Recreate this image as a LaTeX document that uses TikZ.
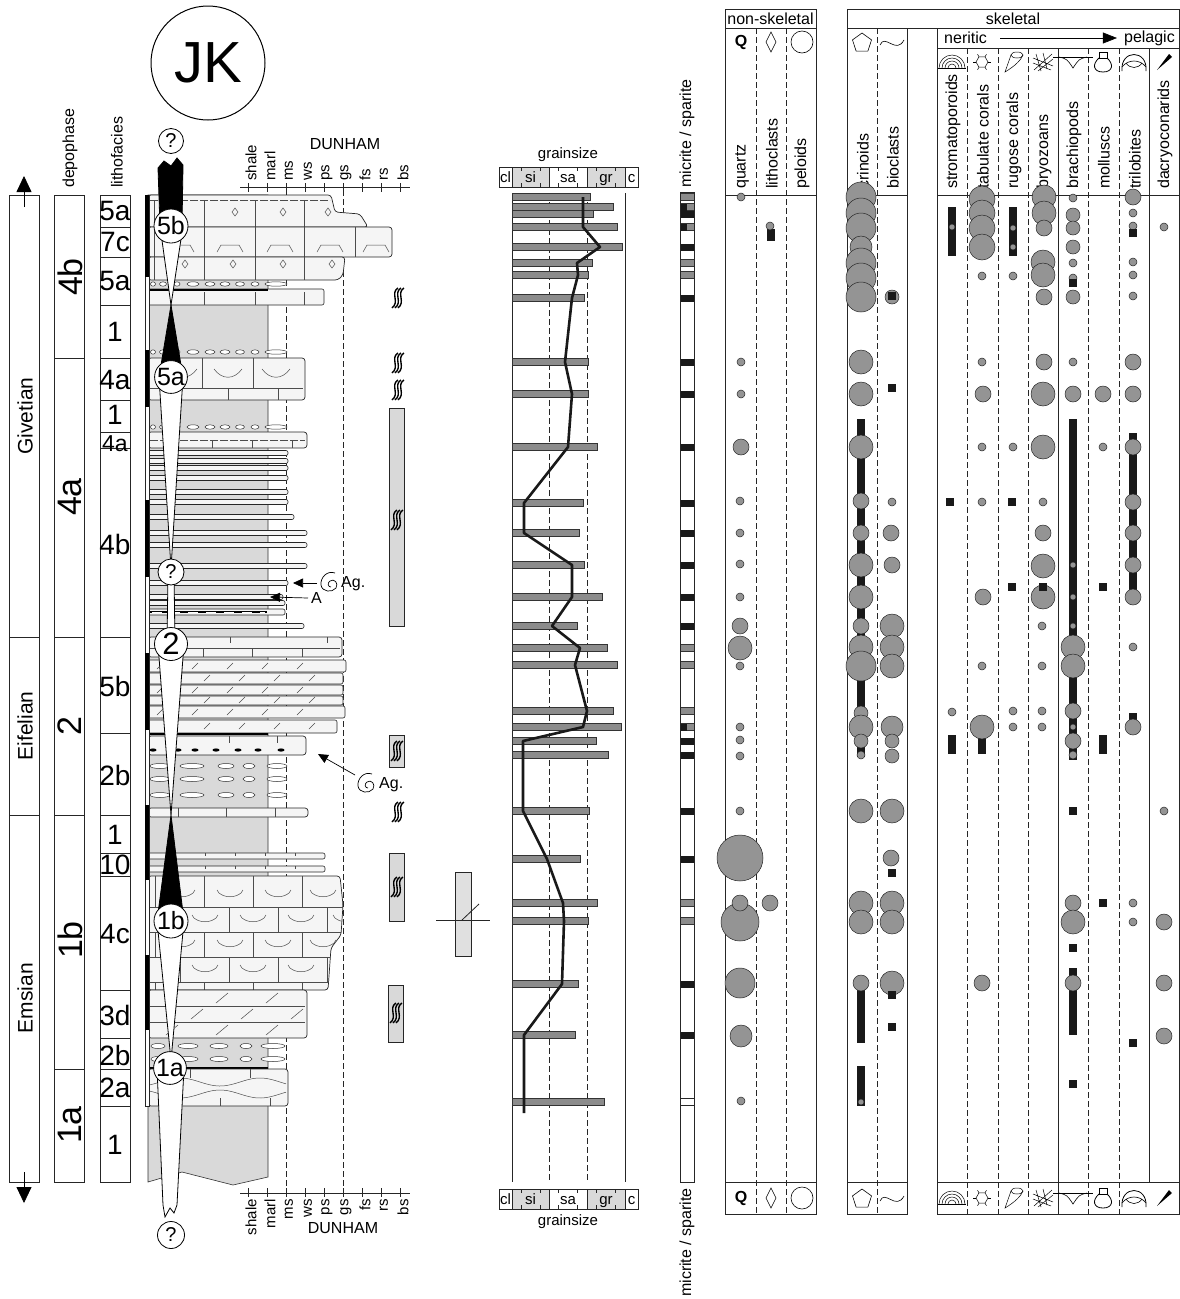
\documentclass[tikz,border=0pt]{standalone}
\usepackage{fontspec}
\setmainfont{Liberation Sans}
\usetikzlibrary{arrows.meta}

\newcommand{\fsz}[1]{\fontsize{#1}{#1}\selectfont}

\tikzset{
  frame/.style={draw=black!85, line width=0.8pt},
  guide/.style={draw=black!85, line width=0.6pt, dash pattern=on 6pt off 3pt},
  txt/.style={font=\fsz{16}},
  shale/.style={fill=black!15, draw=black!80, line width=0.6pt},
  lime/.style={fill=black!4, draw=black!85, line width=0.7pt, rounded corners=3pt},
  thinbed/.style={fill=black!4, draw=black!85, line width=0.6pt, rounded corners=2pt},
  brick/.style={draw=black!70, line width=0.5pt},
  nod/.style={fill=white, draw=black!80, line width=0.5pt},
  seqw/.style={fill=white, draw=black, line width=0.8pt},
  seqb/.style={fill=black, draw=black, line width=0.8pt},
  seqlab/.style={circle, draw=black, fill=white, line width=0.8pt, inner sep=0pt},
  gbar/.style={fill=black!45, draw=black!80, line width=0.5pt},
  grain/.style={fill=black!42, draw=black!85, line width=0.5pt},
  blk/.style={fill=black!90},
  tipline/.style={line width=0.7pt, -{Triangle[length=10pt, width=9pt]}},
  squig/.pic={
    \foreach \dd in {-3,0,3}
      \draw[line width=1.4pt] (\dd+3,-10) .. controls (\dd-5,-5) and (\dd+5,4) .. (\dd-3,10);
  },
  ammo/.pic={
    \draw[line width=0.7pt] (5,-9) .. controls (-3,-12) and (-10,-4) .. (-9,3)
      .. controls (-8,10) and (2,11) .. (6,6)
      .. controls (9,1) and (4,-4) .. (0,-1)
      .. controls (-3,1) and (-2,5) .. (1,5);
  },
  lozenge/.pic={\draw[line width=0.6pt] (0,-10) -- (5,0) -- (0,10) -- (-5,0) -- cycle;},
  pentag/.pic={\draw[line width=0.6pt] (-90:10) -- (-18:10) -- (54:10) -- (126:10) -- (198:10) -- cycle;},
  wavey/.pic={\draw[line width=0.6pt] (-12,3) .. controls (-7,-9) and (4,13) .. (12,-2);},
  strom/.pic={
    \begin{scope}
      \clip (-15,-10) rectangle (15,6);
      \foreach \q in {4,7,10,13} \draw[line width=0.5pt] (0,6) circle[radius=\q pt];
    \end{scope}
    \draw[line width=0.5pt] (-14,6) -- (14,6);
  },
  tabc/.pic={
    \draw[line width=0.5pt] (0:6) -- (60:6) -- (120:6) -- (180:6) -- (240:6) -- (300:6) -- cycle;
    \foreach \a in {0,60,...,300} \draw[line width=0.5pt] (\a:6) -- (\a:9);
  },
  rugc/.pic={
    \draw[line width=0.5pt] (-2,-7) -- (-8,10) .. controls (2,4) and (8,-2) .. (10,-7);
    \draw[line width=0.5pt] (4,-7) ellipse[x radius=6pt, y radius=3pt];
  },
  bryo/.pic={
    \draw[line width=0.5pt] (-9,8) -- (9,-8) (-5,9) -- (10,-3) (-10,-4) -- (10,4)
      (-10,1) -- (8,8) (-7,-8) -- (-2,9) (0,-9) -- (4,7);
  },
  brach/.pic={
    \draw[line width=0.6pt] (-20,-5) -- (20,-5);
    \draw[line width=0.6pt] (-14,-5) .. controls (-6,-3) .. (0,6) .. controls (6,-3) .. (14,-5);
  },
  moll/.pic={
    \draw[line width=0.8pt] (-4,-10) rectangle (4,-4);
    \draw[line width=0.8pt] (-4,-4) .. controls (-11,2) and (-10,10) .. (0,10)
      .. controls (10,10) and (11,2) .. (4,-4);
  },
  tril/.pic={
    \draw[line width=0.8pt] (-12,9) .. controls (-14,-13) and (14,-13) .. (12,9);
    \draw[line width=0.6pt] (-12,5) .. controls (-6,-3) and (6,-3) .. (12,5);
    \draw[line width=0.6pt] (-8,1) .. controls (-4,7) and (4,7) .. (8,1);
  },
  dacr/.pic={\fill (-7,8) -- (5,-8) -- (8,-5) -- cycle;},
}

\begin{document}
\begin{tikzpicture}[x=1pt, y=-1pt, every node/.style={inner sep=0pt}]
  \useasboundingbox (0,0) rectangle (1179,1299);
  \fill[white] (0,0) rectangle (1179,1299);

  % Time scale
  \draw[frame] (9,195) rectangle (39,1182);
  \draw[frame] (9,637) -- (39,637) (9,815) -- (39,815);
  \coordinate (upA) at (24,207);
  \coordinate (upB) at (24,176);
  \coordinate (dnA) at (24,1172);
  \coordinate (dnB) at (24,1203);
  \draw[line width=0.8pt, -{Triangle[length=16pt, width=15pt]}] (upA) -- (upB);
  \draw[line width=0.8pt, -{Triangle[length=16pt, width=15pt]}] (dnA) -- (dnB);
  \node[rotate=90, font=\fsz{21}] (giv) at (25,416) {Givetian};
  \node[rotate=90, font=\fsz{21}] (eif) at (25,726) {Eifelian};
  \node[rotate=90, font=\fsz{21}] (ems) at (25,998) {Emsian};

  % Depophases
  \draw[frame] (54,195) rectangle (84,1182);
  \foreach \yy in {358,637,815,1069} \draw[frame] (54,\yy) -- (84,\yy);
  \node[txt, rotate=90, anchor=west] (dephead) at (70,188) {depophase};
  \foreach \yy/\lab [count=\i] in {277/4b, 497/4a, 726/2, 940/1b, 1125/1a}
    \node[rotate=90, font=\fsz{34}] (dp\i) at (70,\yy) {\lab};

  % Lithofacies
  \draw[frame] (100,195) rectangle (130,1182);
  \foreach \yy in {227,257,305,358,400,432,448,637,733,815,853,876,990,1038,1069,1106}
    \draw[frame] (100,\yy) -- (130,\yy);
  \node[txt, rotate=90, anchor=west] (lfhead) at (117,188) {lithofacies};
  \foreach \yy/\lab [count=\i] in {211/5a, 242/7c, 281/5a, 332/1, 380/4a, 415/1, 544/4b,
      686/5b, 775/2b, 835/1, 865/10, 934/4c, 1015/3d, 1055/2b, 1088/2a, 1145/1}
    \node[font=\fsz{28}] (lf\i) at (115,\yy) {\lab};
  \node[font=\fsz{23}] (lfsmall) at (115,444) {4a};

  % Log: guides and shale
  \draw[guide] (286,190) -- (286,1190);
  \draw[guide] (343,190) -- (343,1190);
  \draw[shale] (148,195) -- (268,195) -- (268,1177) -- (233,1185) -- (182,1172) -- (148,1182) -- cycle;

  % Log: 5a, 7c, 5a
  \draw[lime] (148,195) -- (331,195) -- (335,212) -- (360,214) -- (368,227) -- (148,227) -- cycle;
  \draw[brick, dash pattern=on 8pt off 2pt] (150,200) -- (330,200);
  \foreach \xx in {154,204,255,304} \draw[brick] (\xx,200) -- (\xx,227);
  \foreach \xx in {235,283,328} \draw[brick] (\xx,208) -- (\xx+3,212) -- (\xx,216) -- (\xx-3,212) -- cycle;
  \draw[lime] (148,227) rectangle (392,257);
  \foreach \xx in {154,204,255,304,355} \draw[brick] (\xx,227) -- (\xx,257);
  \foreach \xx in {181,230,280,330,376} \draw[brick] (\xx-13,252) -- (\xx-9,245) -- (\xx+9,245) -- (\xx+13,252);
  \draw[lime] (148,257) -- (345,257) -- (343,275) -- (338,280) -- (148,280) -- cycle;
  \foreach \xx in {154,204,255,304} \draw[brick] (\xx,257) -- (\xx,280);
  \foreach \xx in {185,233,283,332} \draw[brick] (\xx,260) -- (\xx+3,264) -- (\xx,268) -- (\xx-3,264) -- cycle;
  \foreach \yy in {284,352,427}
    \foreach \xx/\ww in {153/2.5, 163/3.5, 177/3, 193/6, 210/5, 225/5, 240/4.5, 255/4, 276/11}
      \draw[nod] (\xx,\yy) ellipse[x radius=\ww pt, y radius=2.2pt];
  \draw[thinbed] (148,289) rectangle (324,305);
  \foreach \xx in {204,255,304} \draw[brick] (\xx,292) -- (\xx,305);
  \draw[line width=1.4pt] (148,290) -- (268,290);

  % Log: 4a, 4b
  \draw[lime] (148,358) rectangle (305,400);
  \draw[brick] (150,388) -- (303,388);
  \foreach \xx in {202,253} \draw[brick] (\xx,358) -- (\xx,388);
  \foreach \xx in {178,228,278} \draw[brick] (\xx,388) -- (\xx,400);
  \foreach \xx in {183,228,276} \draw[brick] (\xx-14,369) .. controls (\xx-6,380) and (\xx+6,380) .. (\xx+14,369);
  \draw[lime] (148,432) rectangle (307,448);
  \draw[brick, dash pattern=on 8pt off 2pt] (150,440) -- (305,440);
  \foreach \xx in {212,252,292} \draw[brick] (\xx,440) -- (\xx,448);
  \foreach \yy/\xr in {453/288, 461/288, 468/288, 478/288, 492/288, 502/288, 517/294, 533/307,
      545/307, 566/307, 583/288, 597/283, 603/285, 626/304}
    \draw[thinbed] (148,\yy-2.5) rectangle (\xr,\yy+2.5);
  \draw[thinbed] (148,609) rectangle (285,615);
  \draw[line width=2.4pt] (150,612) -- (267,612);
  \draw[white, line width=1pt, dash pattern=on 10pt off 8pt] (152,612) -- (265,612);

  % Log: 5b
  \draw[lime] (148,637) rectangle (342,657);
  \draw[brick] (150,648) -- (340,648);
  \foreach \xx in {230,327} \draw[brick] (\xx,637) -- (\xx,643);
  \foreach \xx in {203,252,302} \draw[brick] (\xx,648) -- (\xx,657);
  \foreach \ya/\yb/\xr in {660/672/346, 673/684/343, 685/695/343, 696/705/343, 706/718/345, 720/733/337}
    \draw[thinbed] (148,\ya) rectangle (\xr,\yb);
  \foreach \yy/\xo in {666/0, 678/12, 690/0, 700/12, 712/0, 726/12}
    \foreach \xx in {160,195,...,320}
      \draw[brick] (\xx+\xo-3,\yy+3) -- (\xx+\xo+3,\yy-3);

  % Log: 2b
  \draw[line width=1.4pt] (148,734) -- (268,734);
  \draw[lime] (148,736) rectangle (306,755);
  \foreach \xx in {229,277} \draw[brick] (\xx,736) -- (\xx,743);
  \foreach \xx in {153,178,195,216,238,258,281} \fill (\xx,750) ellipse[x radius=3.5pt, y radius=1.6pt];
  \foreach \yy in {766,779,795}
    \foreach \xx/\ww in {160/10, 192/12, 226/8, 249/6, 277/10}
      \draw[nod] (\xx,\yy) ellipse[x radius=\ww pt, y radius=2.5pt];
  \draw[lime] (148,808) rectangle (308,817);
  \foreach \xx in {178,226,275} \draw[brick] (\xx,808) -- (\xx,817);

  % Log: 10, 4c, 3d
  \draw[thinbed] (148,853) rectangle (325,859);
  \draw[thinbed] (148,866) rectangle (325,872);
  \foreach \xx in {175,205,235,265,295} \draw[brick] (\xx,853) -- (\xx,856) (\xx,866) -- (\xx,869);
  \draw[lime] (148,876) -- (340,876) -- (343,905) -- (341,935) -- (331,948) -- (328,990) -- (148,990) -- cycle;
  \begin{scope}
    \clip (148,876) -- (340,876) -- (343,905) -- (341,935) -- (331,948) -- (328,990) -- (148,990) -- cycle;
    \foreach \yy in {907,932,957,982} \draw[brick] (148,\yy) -- (345,\yy);
    \foreach \ya/\yb/\xo in {876/907/0, 907/932/25, 932/957/0, 957/982/25, 982/990/0}
      \foreach \xx in {155,204,253,302} \draw[brick] (\xx+\xo,\ya) -- (\xx+\xo,\yb);
    \foreach \yy/\xo in {893/0, 918/23, 943/0, 968/23}
      \foreach \xx in {182,230,278,323}
        \draw[brick] (\xx+\xo-13,\yy-3) -- (\xx+\xo-11,\yy) .. controls (\xx+\xo-5,\yy+5) and (\xx+\xo+5,\yy+5) .. (\xx+\xo+11,\yy) -- (\xx+\xo+13,\yy-3);
  \end{scope}
  \draw[lime] (148,990) rectangle (307,1038);
  \draw[brick] (150,1006) -- (305,1006) (150,1022) -- (305,1022);
  \foreach \yy/\xo in {998/0, 1014/25, 1030/0}
    \foreach \xx in {172,222,272}
      \draw[brick] (\xx+\xo-6,\yy+5) -- (\xx+\xo+6,\yy-5);

  % Log: 2b, 2a
  \foreach \yy in {1046,1059}
    \foreach \xx/\ww in {158/7, 188/10, 219/9, 246/6, 273/12}
      \draw[nod] (\xx,\yy) ellipse[x radius=\ww pt, y radius=2.5pt];
  \draw[line width=1.4pt] (148,1068) -- (268,1068);
  \draw[lime] (148,1069) rectangle (288,1106);
  \draw[brick] plot[domain=150:286, samples=50] (\x,{1082-4*sin(4.5*\x)});
  \draw[brick] plot[domain=150:286, samples=50] (\x,{1094+4*sin(4.5*\x)});
  \foreach \xx in {190,250} \draw[brick] (\xx,1069) -- (\xx,1078);
  \foreach \xx in {220,270} \draw[brick] (\xx,1098) -- (\xx,1106);

  % Log: left bar
  \draw[frame, fill=white] (145,195) rectangle (149,1106);
  \foreach \ya/\yb in {195/277, 350/407, 500/577, 653/730, 805/880, 955/1030}
    \fill (145,\ya) rectangle (149,\yb);

  % Sequences
  \draw[seqb] (158,168) -- (164,161) -- (171,166) -- (177,158) -- (183,165) -- (182,226) -- (160,226) -- cycle;
  \draw[seqw] (160,226) -- (183,226) -- (171,305) -- cycle;
  \draw[seqb] (171,305) -- (183,377) -- (159,377) -- cycle;
  \draw[seqw] (159,377) -- (183,377) -- (171,568) -- cycle;
  \draw[seqw] (168,572) -- (174,572) -- (175,644) -- (167,644) -- cycle;
  \draw[seqw] (158,644) -- (184,644) -- (171,815) -- cycle;
  \draw[seqb] (171,815) -- (184,921) -- (157,921) -- cycle;
  \draw[seqw] (157,921) -- (184,921) -- (171,1060) -- cycle;
  \draw[seqw] (157,1068) -- (184,1068) -- (177,1205) -- (174,1213) -- (170,1208) -- (165,1217) -- (163,1205) -- cycle;
  \node[seqlab, minimum size=25pt, font=\fsz{20}] (qtop) at (171,141) {?};
  \node[seqlab, minimum size=34pt, font=\fsz{25}] (s5b) at (171,226) {5b};
  \node[seqlab, minimum size=32pt, font=\fsz{25}] (s5a) at (171,377) {5a};
  \node[seqlab, minimum size=26pt, font=\fsz{20}] (qmid) at (171,572) {?};
  \node[seqlab, minimum size=33pt, font=\fsz{31}] (s2) at (171,644) {2};
  \node[seqlab, minimum size=34pt, font=\fsz{25}] (s1b) at (171,921) {1b};
  \node[seqlab, minimum size=32pt, font=\fsz{25}] (s1a) at (170,1068) {1a};
  \node[seqlab, minimum size=27pt, font=\fsz{20}] (qbot) at (171,1235) {?};
  \node[circle, draw=black, line width=1pt, minimum size=114pt, font=\fsz{58}] (jk) at (208,63) {JK};

  % Dunham scales
  \draw[frame] (240,187) -- (410,187);
  \draw[frame] (240,1193) -- (410,1193);
  \foreach \xx/\lab [count=\i] in {248/shale, 267/marl, 286/ms, 305/ws, 324/ps, 343/gs, 362/fs, 381/rs, 400/bs} {
    \draw[frame] (\xx,183) -- (\xx,192);
    \draw[frame] (\xx,1188) -- (\xx,1197);
    \node[rotate=90, anchor=west, font=\fsz{15}] (dt\i) at (\xx+3,181) {\lab};
    \node[rotate=90, anchor=east, font=\fsz{15}] (db\i) at (\xx+3,1199) {\lab};
  }
  \node[txt] (dhtop) at (345,144) {DUNHAM};
  \node[txt] (dhbot) at (343,1228) {DUNHAM};

  % Bioturbation
  \draw[frame, fill=black!15] (389,408) rectangle (404,626);
  \draw[frame, fill=black!15] (389,735) rectangle (404,767);
  \draw[frame, fill=black!15] (389,853) rectangle (404,921);
  \draw[frame, fill=black!15] (388,985) rectangle (403,1042);
  \foreach \xx/\yy in {398/298, 398/363, 398/390, 397/520, 397/751, 398/812, 397/887, 396/1013}
    \pic at (\xx,\yy) {squig};

  % Fossil marks
  \pic at (330,582) {ammo};
  \node[txt, anchor=west] (ag1) at (341,584) {Ag.};
  \coordinate (ag1a) at (317,583);
  \coordinate (ag1b) at (293,583);
  \draw[tipline] (ag1a) -- (ag1b);
  \node[txt, anchor=west] (alab) at (311,598) {A};
  \coordinate (atip) at (270,597);
  \draw[tipline] ([xshift=-3pt]alab.west) -- (atip);
  \pic at (367,783) {ammo};
  \node[txt, anchor=west] (ag2) at (379,785) {Ag.};
  \coordinate (ag2a) at (355,775);
  \coordinate (ag2b) at (318,754);
  \draw[tipline] (ag2a) -- (ag2b);

  % Fault
  \draw[frame, fill=black!12] (455,872) rectangle (471,956);
  \draw[frame] (436,920) -- (490,920);
  \draw[frame] (462,920) -- (479,904);

  % Grainsize scales
  \foreach \yt/\yb [count=\i] in {167/187, 1189/1209} {
    \fill[black!15] (512,\yt) rectangle (549,\yb);
    \fill[black!15] (587,\yt) rectangle (625,\yb);
    \draw[frame] (499,\yt) rectangle (638,\yb);
    \foreach \xx in {512,549,587,625} \draw[frame] (\xx,\yt) -- (\xx,\yb);
    \foreach \xx in {521,540,558,577,596,615} \draw[draw=black!85, line width=0.5pt] (\xx,\yb) -- (\xx,\yb-4) (\xx,\yt) -- (\xx,\yt+4);
    \node[font=\fsz{15}, anchor=base] (gcl\i) at (505.5,\yb-5) {cl};
    \node[font=\fsz{15}, anchor=base] (gsi\i) at (530.5,\yb-5) {si};
    \node[font=\fsz{15}, anchor=base] (gsa\i) at (568,\yb-5) {sa};
    \node[font=\fsz{15}, anchor=base] (ggr\i) at (606,\yb-5) {gr};
    \node[font=\fsz{15}, anchor=base] (gc\i) at (631.5,\yb-5) {c};
  }
  \node[font=\fsz{15}] (gstop) at (568,155) {grainsize};
  \node[font=\fsz{15}] (gsbot) at (568,1222) {grainsize};

  % Grainsize log
  \draw[frame] (512,193) -- (512,1182) (625,193) -- (625,1182);
  \draw[guide] (549,193) -- (549,1182) (587,193) -- (587,1182);
  \foreach \yy/\xr in {197/590, 207/613, 214/593, 227/617, 247/622, 263/592, 275/588, 298/584,
      362/588, 394/588, 447/597, 503/583, 533/579, 565/584, 597/602, 626/577, 648/607, 665/617,
      711/613, 727/621, 741/596, 755/608, 811/589, 859/580, 903/597, 921/588, 984/578, 1035/575, 1102/604}
    \draw[gbar] (512,\yy-3.5) rectangle (\xr,\yy+3.5);
  \draw[line width=2.6pt, black!90, line join=round] (583,197) -- (583,227) -- (600,247) -- (577,263)
    -- (578,275) -- (572,298) -- (565,362) -- (572,394) -- (568,447) -- (524,503) -- (524,533)
    -- (572,565) -- (572,597) -- (552,626) -- (580,648) -- (575,665) -- (587,711) -- (583,727)
    -- (523,741) -- (523,811) -- (547,859) -- (563,903) -- (564,921) -- (562,984) -- (524,1035) -- (524,1113);

  % Micrite / sparite
  \foreach \yy in {214,247,298,362,394,447,503,533,565,597,626,741,755,811,859,984,1035}
    \fill[black!90] (680,\yy-3.5) rectangle (694,\yy+3.5);
  \foreach \yy in {197,263,275,648,665,711,903,921}
    \draw[gbar] (680,\yy-3.5) rectangle (694,\yy+3.5);
  \foreach \yy in {207,227,727} {
    \draw[gbar] (680,\yy-3.5) rectangle (694,\yy+3.5);
    \fill[black!90] (680,\yy-3.5) rectangle (687,\yy+3.5);
  }
  \draw[frame] (680,1098.5) rectangle (694,1105.5);
  \draw[frame] (680,192) rectangle (694,1182);
  \node[txt, rotate=90, anchor=west] (mstop) at (687,188) {micrite / sparite};
  \node[txt, rotate=90, anchor=west] (msbot) at (687,1297) {micrite / sparite};

  % Components: frames
  \draw[frame] (725,9) rectangle (816,1214);
  \draw[frame] (725,28) -- (816,28) (725,195) -- (816,195) (725,1182) -- (816,1182);
  \draw[guide] (756,28) -- (756,1214) (786,28) -- (786,1214);
  \draw[frame] (847,9) rectangle (1179,28);
  \draw[frame] (847,28) rectangle (907,1214);
  \draw[frame] (937,28) rectangle (1179,1214);
  \draw[frame] (847,195) -- (907,195) (937,195) -- (1179,195) (847,1182) -- (907,1182)
    (937,1182) -- (1179,1182) (937,48) -- (1179,48);
  \draw[guide] (877,28) -- (877,1214);
  \draw[frame] (1058,48) -- (1058,1214) (1149,48) -- (1149,1182);
  \draw[guide] (967,48) -- (967,1214) (998,48) -- (998,1214) (1028,48) -- (1028,1214)
    (1088,48) -- (1088,1214) (1119,48) -- (1119,1214);

  % Components: headings
  \node[txt] (nsk) at (770.5,19) {non-skeletal};
  \node[txt] (sk) at (1013,19) {skeletal};
  \node[txt, anchor=west] (ner) at (944,38) {neritic};
  \node[txt, anchor=east] (pel) at (1175,38) {pelagic};
  \draw[line width=0.6pt, -{Triangle[length=14pt, width=11pt]}] ([xshift=13pt]ner.east) -- ([xshift=-7pt]pel.west);
  \foreach \xx/\lab [count=\i] in {741/quartz, 771/lithoclasts, 801/peloids, 862/crinoids, 892/bioclasts,
      952/stromatoporoids, 982/tabulate corals, 1013/rugose corals, 1043/bryozoans, 1073/brachiopods,
      1103/molluscs, 1134/trilobites, 1164/dacryoconarids}
    \node[txt, rotate=90, anchor=west] (col\i) at (\xx+1,189) {\lab};

  % Components: symbols
  \node[font=\bfseries\fsz{16}] (qa) at (741,42) {Q};
  \node[font=\bfseries\fsz{16}] (qb) at (741,1198) {Q};
  \foreach \yy in {42,1198} {
    \pic at (771,\yy) {lozenge};
    \draw[line width=0.6pt] (802,\yy) circle[radius=11pt];
    \pic at (862,\yy+1) {pentag};
    \pic at (892,\yy) {wavey};
  }
  \foreach \yy in {62,1198} {
    \pic at (952,\yy) {strom};
    \pic at (982,\yy) {tabc};
    \pic at (1013,\yy) {rugc};
    \pic at (1043,\yy) {bryo};
    \pic at (1073,\yy) {brach};
    \pic at (1103,\yy) {moll};
    \pic at (1134,\yy) {tril};
    \pic at (1164,\yy) {dacr};
  }

  % Components: ranges
  \foreach \xx/\ya/\yb in {952/207/256, 1013/207/256, 771/229/241, 861/419/757, 1073/419/760,
      1133/433/597, 1133/713/725, 952/735/754, 982/727/754, 1103/735/754, 861/983/1043,
      861/1066/1106, 1073/968/1035}
    \fill[black!90] (\xx-4,\ya) rectangle (\xx+4,\yb);

  % Components: grains
  \foreach \xx/\yy/\rad in {741/197/4, 741/362/4, 741/394/4, 741/447/8, 740/501/4, 740/533/4, 740/564/4,
      740/597/4, 740/626/8, 740/648/12, 740/666/4, 740/727/4, 740/740/4, 740/756/4, 740/811/4,
      740/858/23, 740/922/19, 740/903/8, 740/983/15, 741/1036/11, 741/1101/4,
      770/226/4, 770/903/8,
      861/197/15, 861/213/15, 861/228/15, 861/247/11, 861/263/15, 861/278/15, 861/297/15,
      861/362/12, 861/394/12, 861/447/12, 861/501/8, 861/533/8, 861/565/12, 861/597/12, 861/626/8,
      861/647/12, 861/666/15, 861/713/7, 861/727/12, 861/741/7, 861/755/4, 861/811/12, 861/903/12,
      861/922/12, 861/983/8, 861/1102/3,
      892/297/7, 892/502/4, 891/533/8, 892/565/8, 892/626/12, 892/647/12, 892/666/12, 892/727/11,
      892/741/7, 892/756/7, 892/811/12, 891/858/8, 892/903/12, 892/922/12, 892/983/12,
      952/227/3, 952/712/4,
      982/199/13, 982/213/13, 982/228/13, 982/247/13, 982/276/4, 982/362/4, 983/394/8, 982/447/4,
      982/502/4, 983/597/8, 982/666/4, 982/727/12, 982/983/8,
      1013/228/3, 1013/247/3, 1013/276/4, 1013/447/4, 1013/711/4, 1013/727/4,
      1044/197/12, 1044/213/12, 1044/228/8, 1043/262/12, 1043/275/12, 1044/297/8, 1044/362/8,
      1043/394/12, 1043/447/12, 1043/502/4, 1043/533/8, 1043/566/12, 1043/597/12, 1042/626/4,
      1042/666/4, 1042/711/4, 1042/727/4,
      1073/198/4, 1073/215/7, 1073/228/7, 1073/247/7, 1073/263/4, 1073/278/4, 1073/297/7, 1073/362/4,
      1073/394/8, 1073/565/3, 1073/597/3, 1073/626/3, 1073/647/12, 1073/666/12, 1073/711/8,
      1073/727/3, 1073/741/8, 1073/755/4, 1073/903/8, 1073/922/12, 1073/983/8,
      1103/394/8, 1103/447/4,
      1133/197/8, 1133/213/4, 1133/226/4, 1133/262/4, 1133/275/4, 1133/296/4, 1133/362/8, 1133/394/8,
      1133/447/8, 1133/502/8, 1133/533/8, 1133/565/8, 1133/597/8, 1133/647/4, 1133/727/8,
      1133/903/4, 1133/922/4,
      1164/227/4, 1164/811/4, 1164/922/8, 1164/983/8, 1164/1036/8}
    \draw[grain] (\xx,\yy) circle[radius=\rad pt];

  % Components: single finds
  \foreach \xx/\yy in {892/296, 892/388, 892/873, 892/995, 892/1027, 950/502, 1012/502, 1012/587,
      1043/587, 1073/283, 1073/811, 1073/948, 1073/1084, 1103/587, 1103/903, 1133/233, 1133/1043}
    \fill[black!90] (\xx-4,\yy-4) rectangle (\xx+4,\yy+4);
\end{tikzpicture}
\end{document}
